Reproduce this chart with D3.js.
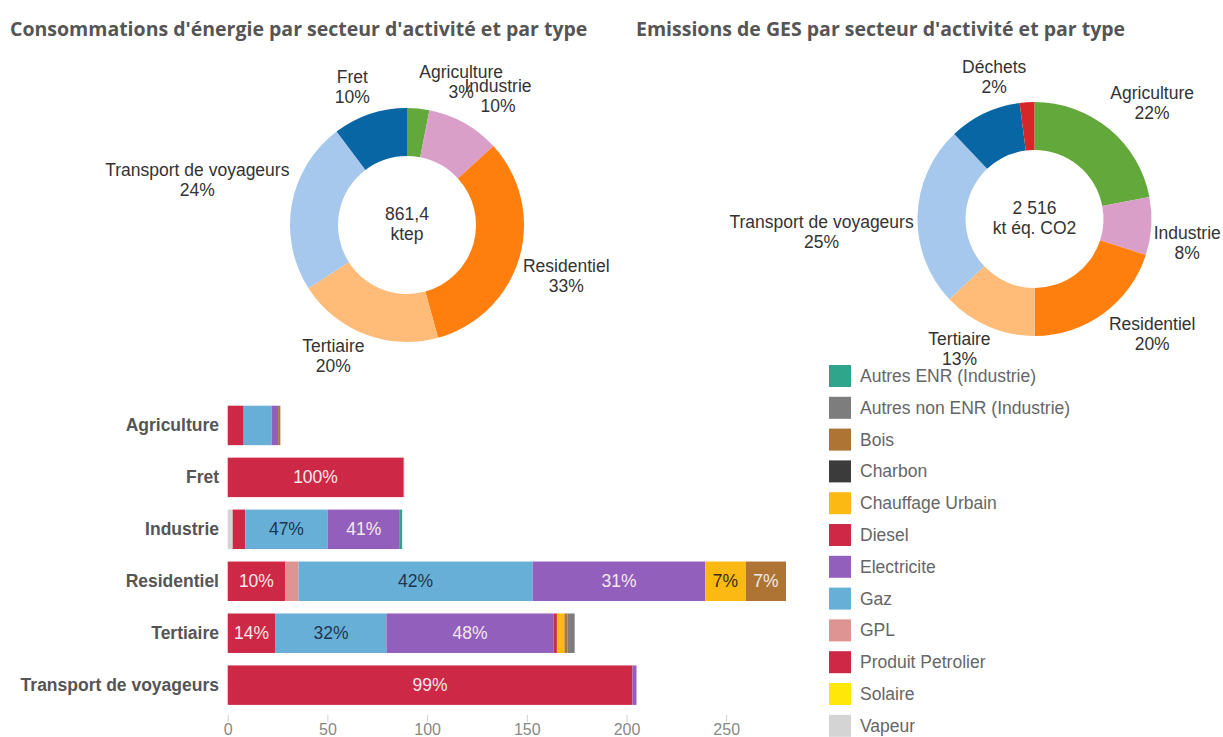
<!DOCTYPE html>
<html>
<head>
<meta charset="utf-8">
<script src="https://cdn.jsdelivr.net/npm/d3@7"></script>
<style>
  html, body { margin: 0; padding: 0; background: #fff; }
  svg { display: block; font-family: "Liberation Sans", Arial, sans-serif; }
</style>
</head>
<body>
<svg id="chart" width="1223" height="737"></svg>
<script>
// ---- Sectors (bar rows, top to bottom) ----
const sectors = ["Agriculture", "Fret", "Industrie", "Residentiel", "Tertiaire", "Transport de voyageurs"];

// ---- Energy types, legend order ----
const energyTypes = [
  "Autres ENR (Industrie)", "Autres non ENR (Industrie)", "Bois", "Charbon", "Chauffage Urbain",
  "Diesel", "Electricite", "Gaz", "GPL", "Produit Petrolier", "Solaire", "Vapeur"
];

// ---- Consumption per energy type (ktep), one value per sector ----
const autresEnr        = [0,   0,    1.2,  0,     0,    0];
const autresNonEnr     = [0,   0,    0,    0,     3.6,  0];
const bois             = [1.1, 0,    0,    20.2,  1.5,  0];
const charbon          = [0,   0,    0,    0,     0,    0];
const chauffageUrbain  = [0,   0,    0,    20.3,  3.8,  0];
const diesel           = [0,   0,    0,    0,     1.7,  0];
const electricite      = [3.3, 0.4,  36.2, 86.5,  83.8, 2];
const gaz              = [14,  0,    41.3, 117.5, 55.6, 0];
const gpl              = [0,   0,    0,    6.7,   0,    0];
const produitPetrolier = [8,   88.1, 6.3,  28.8,  24,   203];
const solaire          = [0,   0,    0,    0,     0,    0];
const vapeur           = [0,   0,    2.5,  0,     0,    0];

const seriesByType = {
  "Autres ENR (Industrie)": autresEnr,
  "Autres non ENR (Industrie)": autresNonEnr,
  "Bois": bois,
  "Charbon": charbon,
  "Chauffage Urbain": chauffageUrbain,
  "Diesel": diesel,
  "Electricite": electricite,
  "Gaz": gaz,
  "GPL": gpl,
  "Produit Petrolier": produitPetrolier,
  "Solaire": solaire,
  "Vapeur": vapeur
};

// Order in which segments are stacked from left to right
const stackOrder = [
  "Vapeur", "Produit Petrolier", "GPL", "Gaz", "Electricite", "Diesel",
  "Chauffage Urbain", "Bois", "Autres non ENR (Industrie)", "Autres ENR (Industrie)", "Charbon", "Solaire"
];

// ---- Energy donut: slice order, clockwise from the top ----
const energyDonutOrder = ["Agriculture", "Industrie", "Residentiel", "Tertiaire", "Transport de voyageurs", "Fret"];

// ---- GES emissions (kt éq. CO2) ----
const gesSectors = ["Agriculture", "Industrie", "Residentiel", "Tertiaire", "Transport de voyageurs", "Fret", "Déchets"];
const gesValues  = [553, 201, 503, 327, 629, 252, 51];
const gesUnlabelled = ["Fret"];

// ---- Axis ticks ----
const axisTicks = [0, 50, 100, 150, 200, 250];

// ---- Colours ----
const energyColor = {
  "Autres ENR (Industrie)": "#2fa68c",
  "Autres non ENR (Industrie)": "#7d7d7d",
  "Bois": "#ad7434",
  "Charbon": "#3b3b3b",
  "Chauffage Urbain": "#fdb913",
  "Diesel": "#cd2946",
  "Electricite": "#935fbc",
  "Gaz": "#68afd8",
  "GPL": "#df9494",
  "Produit Petrolier": "#cd2946",
  "Solaire": "#ffe70a",
  "Vapeur": "#d4d4d4"
};
const energyLabelColor = {
  "Gaz": "#1c3650",
  "Chauffage Urbain": "#3a2c0c"
};
const sectorColor = {
  "Agriculture": "#62a83a",
  "Industrie": "#d99fc9",
  "Residentiel": "#ff7f0e",
  "Tertiaire": "#ffbb78",
  "Transport de voyageurs": "#a6c8ec",
  "Fret": "#0966a5",
  "Déchets": "#d62728"
};

const fr = d3.formatLocale({ decimal: ",", thousands: " ", grouping: [3], currency: ["", " €"] });
const pct = d3.format(".0%");
const FS = 17.5;

const svg = d3.select("#chart");

// ---- Titles ----
svg.append("text")
  .attr("x", 10).attr("y", 36)
  .attr("font-family", "'Open Sans', sans-serif")
  .attr("font-weight", 700).attr("font-size", 19.5)
  .attr("fill", "#555")
  .text("Consommations d'énergie par secteur d'activité et par type");

svg.append("text")
  .attr("x", 636).attr("y", 36)
  .attr("font-family", "'Open Sans', sans-serif")
  .attr("font-weight", 700).attr("font-size", 19.5)
  .attr("fill", "#555")
  .text("Emissions de GES par secteur d'activité et par type");

// ---- Donut helper ----
const rOuter = 117, rInner = 69, rLabel = rOuter + 30;

function drawDonut({ cx, cy, names, values, centerLines, nudges, unlabelled = [] }) {
  const g = svg.append("g").attr("transform", `translate(${cx},${cy})`);
  const total = d3.sum(values);
  const pie = d3.pie().sort(null).value(d => d.value);
  const arcs = pie(names.map((n, i) => ({ name: n, value: values[i] })));
  const arc = d3.arc().innerRadius(rInner).outerRadius(rOuter);

  g.selectAll("path.slice")
    .data(arcs)
    .join("path")
    .attr("class", "slice")
    .attr("d", arc)
    .attr("fill", d => sectorColor[d.data.name]);

  // centre text
  const c = g.append("text")
    .attr("text-anchor", "middle")
    .attr("font-size", FS)
    .attr("fill", "#333");
  c.append("tspan").attr("x", 0).attr("y", -5).text(centerLines[0](total));
  c.append("tspan").attr("x", 0).attr("y", 15).text(centerLines[1]);

  // slice labels
  const labelled = arcs.filter(d => !unlabelled.includes(d.data.name));
  const lab = g.selectAll("text.lbl")
    .data(labelled)
    .join("text")
    .attr("class", "lbl")
    .attr("text-anchor", "middle")
    .attr("font-size", FS)
    .attr("fill", "#333")
    .attr("transform", d => {
      const a = (d.startAngle + d.endAngle) / 2;
      const n = nudges[d.data.name] || [0, 0];
      const x = Math.sin(a) * rLabel + n[0];
      const y = -Math.cos(a) * rLabel + n[1];
      return `translate(${x},${y})`;
    });
  lab.append("tspan").attr("x", 0).attr("y", -4).text(d => d.data.name);
  lab.append("tspan").attr("x", 0).attr("y", 16).text(d => pct(d.data.value / total));
}

// Energy totals per sector come from the stacked series
const sectorTotals = sectors.map((s, i) => d3.sum(energyTypes, t => seriesByType[t][i]));
const energyDonutValues = energyDonutOrder.map(s => sectorTotals[sectors.indexOf(s)]);

drawDonut({
  cx: 407, cy: 225,
  names: energyDonutOrder,
  values: energyDonutValues,
  centerLines: [t => fr.format(",.1f")(t), "ktep"],
  nudges: {
    "Agriculture": [40, 3],
    "Industrie": [19, -1],
    "Residentiel": [18, 10],
    "Tertiaire": [-21, -6],
    "Transport de voyageurs": [-65, -19],
    "Fret": [-8, 1]
  }
});

drawDonut({
  cx: 1034.5, cy: 219,
  names: gesSectors,
  values: gesValues,
  centerLines: [t => fr.format(",.0f")(t), "kt éq. CO2"],
  nudges: {
    "Agriculture": [24, -3],
    "Industrie": [6, 15],
    "Residentiel": [31, -4],
    "Tertiaire": [-17, -5],
    "Transport de voyageurs": [-66, 17],
    "Déchets": [-31, 5]
  },
  unlabelled: gesUnlabelled
});

// ---- Stacked horizontal bars ----
const x = d3.scaleLinear().domain([0, 300]).range([227.7, 825.9]);
const y = d3.scaleBand().domain(sectors).range([400.5, 710.1]).paddingInner(0.24).paddingOuter(0.1);

const rows = sectors.map((s, i) => {
  const row = { sector: s };
  energyTypes.forEach(t => { row[t] = seriesByType[t][i]; });
  return row;
});
const stacked = d3.stack().keys(stackOrder)(rows);

const barsG = svg.append("g");
stacked.forEach(layer => {
  const key = layer.key;
  layer.forEach((seg, i) => {
    const v = seg[1] - seg[0];
    if (v <= 0) return;
    const s = sectors[i];
    const x0 = x(seg[0]), x1 = x(seg[1]);
    barsG.append("rect")
      .attr("x", x0)
      .attr("y", y(s))
      .attr("width", x1 - x0)
      .attr("height", y.bandwidth())
      .attr("fill", energyColor[key]);
    if (x1 - x0 >= 36) {
      barsG.append("text")
        .attr("x", (x0 + x1) / 2)
        .attr("y", y(s) + y.bandwidth() / 2 + 6)
        .attr("text-anchor", "middle")
        .attr("font-size", FS)
        .attr("fill", energyLabelColor[key] || "#f4e8ec")
        .text(pct(v / sectorTotals[i]));
    }
  });
});

// category labels
svg.append("g").selectAll("text")
  .data(sectors)
  .join("text")
  .attr("x", 219)
  .attr("y", d => y(d) + y.bandwidth() / 2 + 6)
  .attr("text-anchor", "end")
  .attr("font-size", FS)
  .attr("font-weight", 700)
  .attr("fill", "#555")
  .text(d => d);

// x axis
const axisG = svg.append("g")
  .attr("transform", "translate(0,715)")
  .call(d3.axisBottom(x).tickValues(axisTicks).tickSize(7).tickPadding(2).tickFormat(d3.format("d")));
axisG.select(".domain").remove();
axisG.selectAll(".tick line").attr("stroke", "#cfcfcf");
axisG.selectAll(".tick text")
  .attr("font-size", 16)
  .attr("font-family", "'Liberation Sans', Arial, sans-serif")
  .attr("fill", "#888");

// ---- Legend ----
const legend = svg.append("g").attr("transform", "translate(829,365)");
const items = legend.selectAll("g")
  .data(energyTypes)
  .join("g")
  .attr("transform", (d, i) => `translate(0,${i * 31.8})`);
items.append("rect")
  .attr("width", 22).attr("height", 22)
  .attr("fill", d => energyColor[d]);
items.append("text")
  .attr("x", 31).attr("y", 17)
  .attr("font-size", FS)
  .attr("fill", "#666")
  .text(d => d);
</script>
</body>
</html>
